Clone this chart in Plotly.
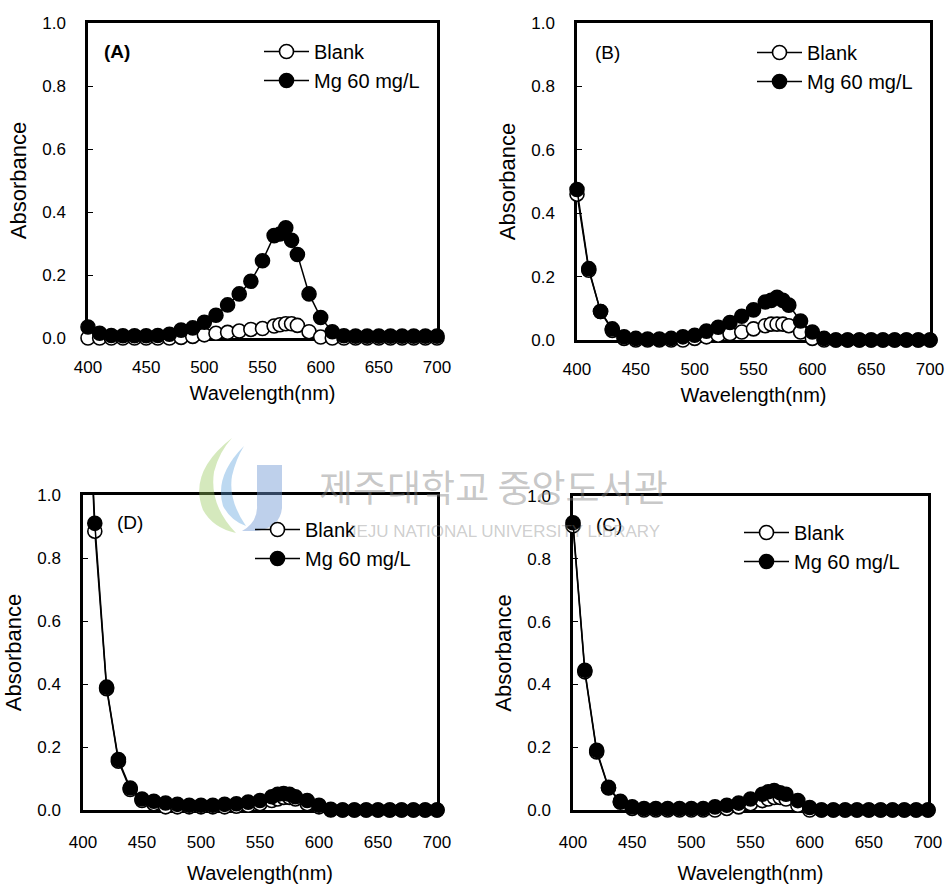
import plotly.graph_objects as go

W, H = 946, 884

# ---------------- data ----------------
wavelength = [400, 410, 420, 430, 440, 450, 460, 470, 480, 490, 500, 510, 520, 530, 540, 550,
              560, 565, 570, 575, 580, 590, 600, 610, 620, 630, 640, 650, 660, 670, 680, 690, 700]

blank_A = [0.0, 0.0, 0.0, 0.0, 0.0, 0.0, 0.0, 0.0, 0.002, 0.005, 0.01, 0.015, 0.018, 0.022, 0.027, 0.03,
           0.038, 0.042, 0.045, 0.045, 0.04, 0.02, 0.003, 0.0, 0.0, 0.0, 0.0, 0.0, 0.0, 0.0, 0.0, 0.0, 0.0]
mg_A = [0.035, 0.015, 0.008, 0.007, 0.007, 0.007, 0.008, 0.012, 0.025, 0.032, 0.05, 0.072, 0.105, 0.14, 0.18, 0.245,
        0.325, 0.33, 0.35, 0.31, 0.265, 0.14, 0.065, 0.02, 0.007, 0.006, 0.006, 0.006, 0.006, 0.006, 0.006, 0.006, 0.006]

blank_B = [0.46, 0.22, 0.09, 0.03, 0.005, 0.0, 0.0, 0.0, 0.0, 0.0, 0.005, 0.01, 0.015, 0.02, 0.025, 0.035,
           0.045, 0.05, 0.05, 0.05, 0.045, 0.025, 0.005, 0.0, 0.0, 0.0, 0.0, 0.0, 0.0, 0.0, 0.0, 0.0, 0.0]
mg_B = [0.475, 0.225, 0.09, 0.035, 0.01, 0.005, 0.003, 0.003, 0.005, 0.01, 0.015, 0.028, 0.04, 0.055, 0.075, 0.095,
        0.12, 0.125, 0.135, 0.125, 0.11, 0.06, 0.025, 0.005, 0.0, 0.0, 0.0, 0.0, 0.0, 0.0, 0.0, 0.0, 0.0]

blank_D = [1.75, 0.885, 0.385, 0.155, 0.065, 0.03, 0.02, 0.01, 0.01, 0.01, 0.01, 0.01, 0.01, 0.012, 0.015, 0.02,
           0.03, 0.035, 0.04, 0.04, 0.035, 0.02, 0.01, 0.0, 0.0, 0.0, 0.0, 0.0, 0.0, 0.0, 0.0, 0.0, 0.0]
mg_D = [1.75, 0.91, 0.39, 0.16, 0.07, 0.035, 0.028, 0.022, 0.018, 0.015, 0.015, 0.015, 0.018, 0.02, 0.025, 0.03,
        0.042, 0.05, 0.052, 0.05, 0.042, 0.03, 0.015, 0.002, 0.0, 0.0, 0.0, 0.0, 0.0, 0.0, 0.0, 0.0, 0.0]

blank_C = [0.905, 0.44, 0.185, 0.07, 0.025, 0.005, 0.0, 0.0, 0.0, 0.0, 0.0, 0.0, 0.0, 0.005, 0.01, 0.02,
           0.03, 0.035, 0.04, 0.04, 0.035, 0.015, 0.0, 0.0, 0.0, 0.0, 0.0, 0.0, 0.0, 0.0, 0.0, 0.0, 0.0]
mg_C = [0.915, 0.445, 0.19, 0.072, 0.028, 0.01, 0.005, 0.005, 0.005, 0.005, 0.005, 0.005, 0.01, 0.015, 0.022, 0.035,
        0.05, 0.058, 0.062, 0.055, 0.05, 0.03, 0.008, 0.0, 0.0, 0.0, 0.0, 0.0, 0.0, 0.0, 0.0, 0.0, 0.0]

series_names = ["Blank", "Mg 60 mg/L"]
panel_labels = ["(A)", "(B)", "(D)", "(C)"]
x_ticks = [400, 450, 500, 550, 600, 650, 700]
y_ticks = [0.0, 0.2, 0.4, 0.6, 0.8, 1.0]
x_title = "Wavelength(nm)"
y_title = "Absorbance"

# ---------------- layout helpers ----------------
FONT = "Liberation Sans, Arial, sans-serif"

def px(x):
    return x / W

def py(y):
    return 1 - y / H

# panel boxes in pixels: (left, right, top, bottom)
boxes = [(88, 437, 23, 338), (577, 930, 23, 340), (83, 437, 495, 810), (573, 928, 496, 810)]
panels = [(blank_A, mg_A), (blank_B, mg_B), (blank_D, mg_D), (blank_C, mg_C)]
label_pos = [(117, 51, True), (607, 52, False), (130, 522, False), (609, 524, False)]
legend_pos = [(259, 32), (752, 33), (250, 510), (739, 513)]
xtitle_standoff = [10, 10, 16, 16]

fig = go.Figure()
layout = dict(
    width=W, height=H,
    margin=dict(l=0, r=0, t=0, b=0, autoexpand=False),
    paper_bgcolor="white", plot_bgcolor="white",
    font=dict(family=FONT, size=17, color="black"),
    showlegend=True,
)
annotations = []

for i, ((blank, mg), (l, r, t, b)) in enumerate(zip(panels, boxes)):
    sfx = "" if i == 0 else str(i + 1)
    xa, ya = "x" + sfx, "y" + sfx
    leg = "legend" + sfx
    styles = [
        dict(color="white", size=14, line=dict(color="black", width=1.6)),
        dict(color="black", size=14, line=dict(color="black", width=1.6)),
    ]
    for name, vals, mk in zip(series_names, (blank, mg), styles):
        fig.add_trace(go.Scatter(
            x=wavelength, y=vals, name=name, mode="lines+markers",
            line=dict(color="black", width=1.5), marker=mk,
            xaxis=xa, yaxis=ya, legend=leg, cliponaxis=False,
            legendgroup=name + sfx,
        ))
    layout["xaxis" + sfx] = dict(
        domain=[px(l), px(r)], anchor=ya, range=[400, 700],
        tickvals=x_ticks, ticks="", showgrid=False, zeroline=False,
        showline=True, linecolor="black", linewidth=2.5, mirror=True,
        layer="below traces", ticklabelstandoff=12 if i < 2 else 15, automargin=False,
        tickfont=dict(size=17),
        title=dict(text=x_title, font=dict(size=20), standoff=xtitle_standoff[i]),
    )
    layout["yaxis" + sfx] = dict(
        domain=[py(b), py(t)], anchor=xa, range=[0, 1],
        tickvals=y_ticks, tickformat=".1f", ticks="inside", ticklen=5, tickwidth=1,
        tickcolor="black", showgrid=False, zeroline=False,
        showline=True, linecolor="black", linewidth=2.5, mirror=True,
        layer="below traces", ticklabelstandoff=16, automargin=False,
        tickfont=dict(size=17),
        title=dict(text=y_title, font=dict(size=22), standoff=10),
    )
    lx, ly = legend_pos[i]
    layout[leg] = dict(
        x=px(lx), y=py(ly), xanchor="left", yanchor="top",
        bgcolor="rgba(0,0,0,0)", borderwidth=0,
        font=dict(size=20, family=FONT), itemwidth=45, tracegroupgap=0,
    )
    tx, ty, bold = label_pos[i]
    annotations.append(dict(
        x=px(tx), y=py(ty), xref="paper", yref="paper", showarrow=False,
        text=("<b>%s</b>" % panel_labels[i]) if bold else panel_labels[i],
        font=dict(size=19, family=FONT), xanchor="center", yanchor="middle",
    ))

# watermark text
annotations.append(dict(
    x=px(493), y=py(486), xref="paper", yref="paper", showarrow=False,
    text="제주대학교 중앙도서관", xanchor="center", yanchor="middle",
    font=dict(size=37, family="Noto Sans CJK KR", color="rgba(130,130,130,0.45)"),
))
annotations.append(dict(
    x=px(504), y=py(531), xref="paper", yref="paper", showarrow=False,
    text="JEJU NATIONAL UNIVERSITY LIBRARY", xanchor="center", yanchor="middle",
    font=dict(size=17, family=FONT, color="rgba(130,130,130,0.40)"),
))
layout["annotations"] = annotations

# watermark logo shapes
def path(cmds):
    out = []
    for c in cmds:
        if isinstance(c, str):
            out.append(c)
        else:
            out.append("%.5f,%.5f" % (px(c[0]), py(c[1])))
    return " ".join(out)

shapes = [
    dict(type="path", xref="paper", yref="paper", layer="above",
         path=path(["M", (232, 438), "Q", (188, 472), (203, 510), "Q", (213, 528), (236, 533),
                    "Q", (209, 505), (214, 472), "Q", (219, 452), (232, 438), "Z"]),
         fillcolor="rgba(150,200,90,0.40)", line=dict(width=0)),
    dict(type="path", xref="paper", yref="paper", layer="above",
         path=path(["M", (244, 446), "Q", (214, 476), (223, 506), "Q", (231, 521), (246, 526),
                    "Q", (228, 500), (232, 476), "Q", (236, 459), (244, 446), "Z"]),
         fillcolor="rgba(90,160,220,0.40)", line=dict(width=0)),
    dict(type="path", xref="paper", yref="paper", layer="above",
         path=path(["M", (257, 465), "L", (282, 465), "L", (282, 508), "Q", (280, 528), (256, 531),
                    "L", (242, 531), "Q", (258, 522), (257, 505), "Z"]),
         fillcolor="rgba(110,150,210,0.45)", line=dict(width=0)),
]
layout["shapes"] = shapes

fig.update_layout(**layout)
fig.write_html("out.html")
